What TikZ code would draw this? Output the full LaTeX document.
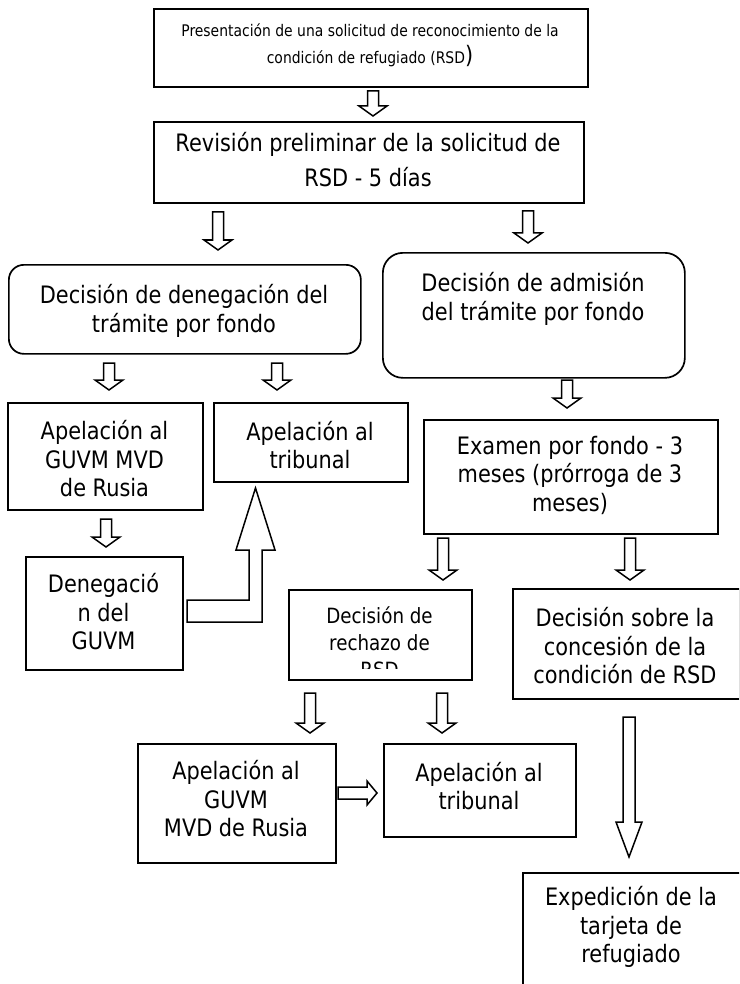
\documentclass[tikz,border=0pt]{standalone}
\usepackage{fontspec}
\setmainfont{DejaVu Sans}[FakeStretch=0.87]
\newcommand\bdown[3]{%
  \draw[blk] (#1-5.5,#2) -- (#1+5.5,#2) -- (#1+5.5,#3-10) -- (#1+14,#3-10) -- (#1,#3) -- (#1-14,#3-10) -- (#1-5.5,#3-10) -- cycle;}
\begin{document}
\begin{tikzpicture}[x=1pt,y=-1pt,
  box/.style={draw, line width=1.7pt, inner sep=0pt, anchor=north west},
  rbox/.style={box, rounded corners=18pt},
  txt/.style={align=center, inner sep=0pt, font=\fontsize{24}{28.5}\selectfont},
  blk/.style={draw, fill=white, line width=1.5pt, line join=miter}]
\useasboundingbox (0,0) rectangle (739,984);
\clip (0,0) rectangle (739,984);
\fill[white] (0,0) rectangle (739,984);

% boxes
\node[box, minimum width=434, minimum height=78] (b1) at (153,8) {};
\node[box, minimum width=430, minimum height=81] (b2) at (153,121) {};
\node[rbox, rounded corners=15pt, minimum width=352, minimum height=89] (b3) at (8,264) {};
\node[rbox, rounded corners=20pt, minimum width=302, minimum height=125] (b4) at (382,252) {};
\node[box, minimum width=195, minimum height=107] (b5) at (7,402) {};
\node[box, minimum width=194, minimum height=79] (b6) at (213,402) {};
\node[box, minimum width=294, minimum height=114] (b7) at (423,419) {};
\node[box, minimum width=157, minimum height=113] (b8) at (25,556) {};
\node[box, minimum width=183, minimum height=90] (b9) at (288,589) {};
\node[box, minimum width=227, minimum height=110] (b10) at (512,588) {};
\node[box, minimum width=220, minimum height=130] (b11) at (522,872) {};
\node[box, minimum width=198, minimum height=119] (b12) at (137,743) {};
\node[box, minimum width=192, minimum height=93] (b13) at (383,743) {};

% texts
\node[txt, font=\fontsize{16}{27}\selectfont] (t1) at (370,45) {Presentación de una solicitud de reconocimiento de la\\condición de refugiado (RSD{\fontsize{24}{24}\selectfont)}};
\node[txt, font=\fontsize{24}{35}\selectfont] (t2) at (368,160) {Revisión preliminar de la solicitud de\\RSD - 5 días};
\node[txt] (t3) at (184,311) {Decisión de denegación del\\trámite por fondo};
\node[txt] (t4) at (533,299) {Decisión de admisión\\del trámite por fondo};
\node[txt] (t5) at (104.5,459) {Apelación al\\GUVM MVD\\de Rusia};
\node[txt] (t6) at (310,445) {Apelación al\\tribunal};
\node[txt] (t7) at (570,475) {Examen por fondo - 3\\meses (prórroga de 3\\meses)};
\node[txt] (t8) at (103.5,612) {Denegació\\n del\\GUVM};
\begin{scope}
  \clip (288,589) rectangle (471,668);
  \node[txt, font=\fontsize{21}{27}\selectfont] (t9) at (379.5,642) {Decisión de\\rechazo de\\RSD};
\end{scope}
\node[txt] (t10) at (625,646) {Decisión sobre la\\concesión de la\\condición de RSD};
\node[txt] (t11) at (631,927) {Expedición de la\\tarjeta de\\refugiado};
\node[txt] (t12) at (236,799) {Apelación al\\GUVM\\MVD de Rusia};
\node[txt] (t13) at (479,786) {Apelación al\\tribunal};

% block arrows
\bdown{373}{91}{116}
\bdown{218}{212}{250}
\bdown{528}{211}{243}
\bdown{109}{363}{390}
\bdown{277}{363}{390}
\bdown{567}{380}{408}
\bdown{106}{519}{547}
\bdown{443}{538}{580}
\bdown{630}{538}{580}
\bdown{310}{693}{733}
\bdown{442}{693}{733}
% big down arrow
\draw[blk] (623,717) -- (635,717) -- (635,822) -- (642,822) -- (629,857) -- (616,822) -- (623,822) -- cycle;
% right arrow
\draw[blk] (338,787) -- (367,787) -- (367,781) -- (377,793) -- (367,805) -- (367,799) -- (338,799) -- cycle;
% L arrow
\draw[blk] (187,600) -- (249,600) -- (249,550) -- (236,550) -- (255.5,488) -- (275,550) -- (262,550) -- (262,622) -- (187,622) -- cycle;
\end{tikzpicture}
\end{document}
